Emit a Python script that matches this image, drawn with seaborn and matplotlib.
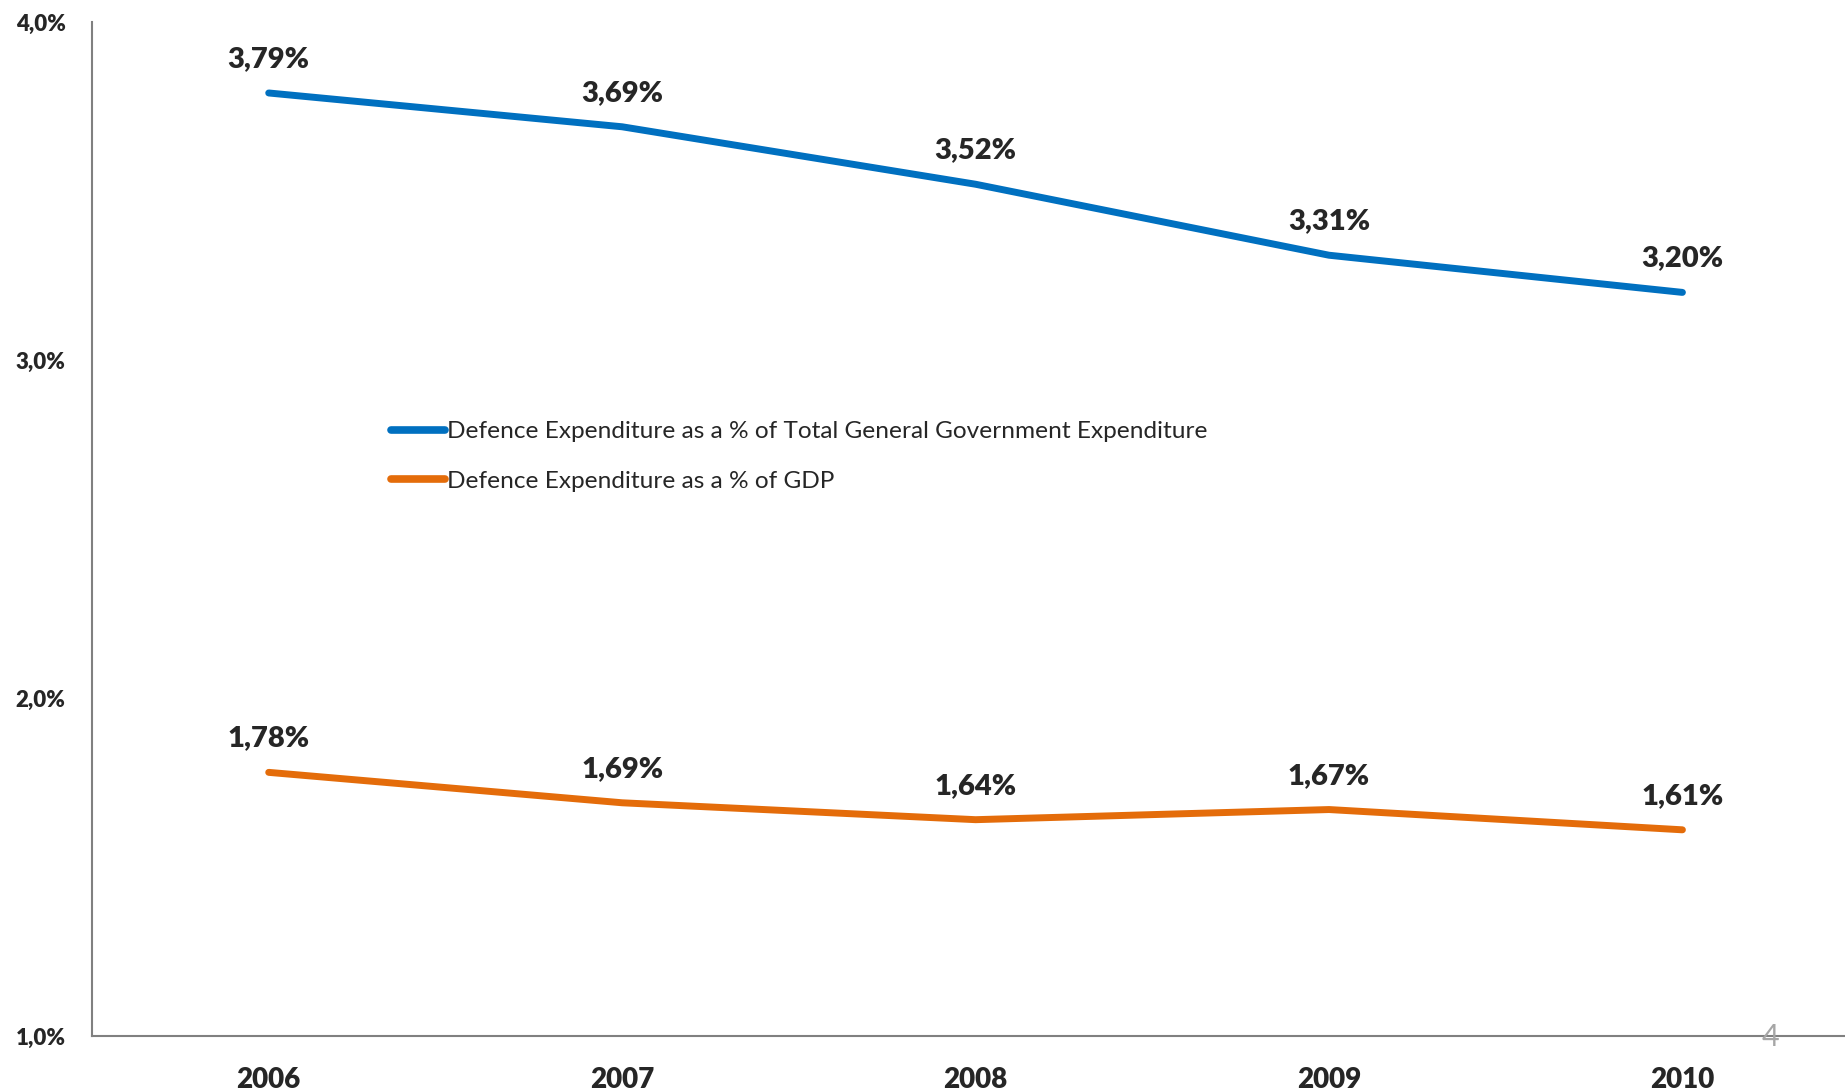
import matplotlib
matplotlib.use("Agg")
import matplotlib.pyplot as plt
import seaborn as sns
import pandas as pd

years = ["2006", "2007", "2008", "2009", "2010"]
total_exp = [3.79, 3.69, 3.52, 3.31, 3.20]
gdp = [1.78, 1.69, 1.64, 1.67, 1.61]
y_ticks = [1.0, 2.0, 3.0, 4.0]
y_tick_labels = ["1,0%", "2,0%", "3,0%", "4,0%"]
series_names = ["Defence Expenditure as a % of Total General Government Expenditure",
                "Defence Expenditure as a % of GDP"]
colors = ["#0070C0", "#E46C0A"]

sns.set_style("white")
plt.rcParams['font.family'] = ['Lato', 'DejaVu Sans']

df = pd.DataFrame({
    "year": years * 2,
    "x": list(range(len(years))) * 2,
    "value": total_exp + gdp,
    "series": [series_names[0]] * len(years) + [series_names[1]] * len(years),
})

fig = plt.figure(figsize=(18.45, 10.92), dpi=100)
ax = fig.add_axes([92 / 1845, 1 - 1036 / 1092, 1 - 92 / 1845, (1036 - 22) / 1092])

sns.lineplot(data=df, x="x", y="value", hue="series", palette=colors,
             linewidth=5, ax=ax, legend=True, solid_capstyle="round")

for vals in (total_exp, gdp):
    for i, v in enumerate(vals):
        ax.annotate(f"{v:.2f}%".replace(".", ","), (i, v), xytext=(0, 15),
                    textcoords="offset points", ha="center", va="bottom",
                    fontsize=21, fontweight="heavy")

ax.set_ylim(1.0, 4.0)
ax.set_yticks(y_ticks)
ax.set_yticklabels(y_tick_labels, fontsize=16, fontweight="heavy")
ax.set_xlim(-0.5, 4.46)
ax.set_xticks([i - 0.5 for i in range(1, len(years))], minor=False)
ax.set_xticklabels([])
ax.set_xticks(range(len(years)), minor=True)
ax.set_xticklabels(years, minor=True, fontsize=20, fontweight="heavy")
ax.tick_params(axis="x", which="minor", length=0, pad=22)
ax.tick_params(axis="x", which="major", direction="inout", length=10, color="#808080", width=1.5)
ax.tick_params(axis="y", length=7, direction="out", color="#808080", width=1.5, pad=12)
ax.set_xlabel("")
ax.set_ylabel("")
for s in ["top", "right"]:
    ax.spines[s].set_visible(False)
for s in ["left", "bottom"]:
    ax.spines[s].set_color("#808080")
    ax.spines[s].set_linewidth(1.5)

leg = ax.legend(loc="upper left", frameon=False,
                fontsize=17.6, handlelength=2.2, handletextpad=0.1, labelspacing=1.15,
                bbox_to_anchor=(0.158, 0.628), bbox_transform=ax.transAxes)
for line in leg.get_lines():
    line.set_linewidth(5.5)
    line.set_solid_capstyle("round")

fig.text(1770 / 1845, 1 - 1037 / 1092, "4", ha="center", va="center", fontsize=22,
         color="#A6A6A6")

fig.savefig("out.png", dpi=100)
